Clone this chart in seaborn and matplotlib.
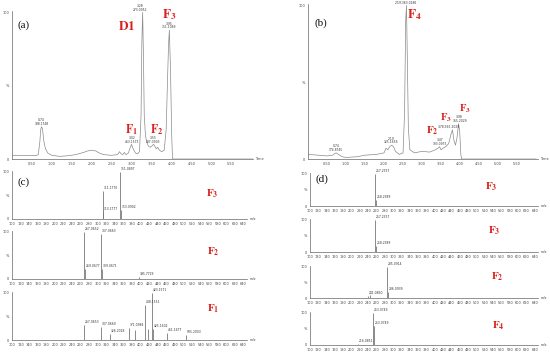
import matplotlib
matplotlib.use("Agg")
import matplotlib.pyplot as plt
import seaborn as sns

# ---- chromatogram (a) ----
time_a = [0.02, 0.3, 0.6, 0.66, 0.70, 0.72, 0.74, 0.76, 0.78, 0.80, 0.84, 0.90, 1.0, 1.2, 1.4,
          1.6, 1.8, 1.9, 2.0, 2.1, 2.2, 2.3, 2.5, 2.65, 2.70, 2.74, 2.78, 2.82, 2.86, 2.92, 2.97,
          3.00, 3.04, 3.10, 3.15, 3.20, 3.24, 3.26, 3.28, 3.30, 3.32, 3.35, 3.38, 3.42, 3.47, 3.52,
          3.55, 3.58, 3.62, 3.66, 3.70, 3.76, 3.82, 3.87, 3.90, 3.93, 3.95, 3.98, 4.01, 4.03, 6.05]
int_a = [2.5, 2.5, 2.3, 3, 12, 20, 22, 21, 17, 12, 7, 4, 2.5, 1.8, 2.2,
         3, 4.5, 5.5, 6, 5.5, 4, 3, 2.5, 3, 5, 3.5, 3, 4.5, 3, 4, 8,
         10, 7, 4, 3.5, 5, 30, 80, 100, 70, 30, 16, 12, 9, 8, 9,
         10, 9, 7, 8, 6, 5, 6, 20, 50, 78, 88, 60, 15, 0, 0]
peak_t_a = [0.74, 3.01, 3.22, 3.55, 3.95]
peak_i_a = [22, 10, 100, 10, 88]
peak_txt_a = ["0.74\n388.1748", "3.02\n463.1573", "3.28\n273.0952", "3.55\n287.0903", "3.95\n351.1089"]

# ---- chromatogram (b) ----
time_b = [0.02, 0.5, 0.65, 0.70, 0.74, 0.80, 0.90, 1.0, 1.3, 1.5, 1.8, 2.0, 2.05, 2.10, 2.15,
          2.20, 2.25, 2.30, 2.40, 2.50, 2.54, 2.57, 2.59, 2.61, 2.64, 2.68, 2.80, 3.0, 3.2, 3.35,
          3.42, 3.46, 3.50, 3.55, 3.62, 3.70, 3.76, 3.80, 3.84, 3.88, 3.92, 3.96, 3.99, 4.02, 4.04, 6.0]
int_b = [3, 2, 2.5, 3.5, 4, 3, 1.5, 1, 1.5, 2.5, 3, 4, 7, 6, 8,
         9, 8, 5, 3, 4, 30, 90, 100, 70, 20, 6, 4, 5, 4.5, 6,
         7, 8, 6, 7, 8, 10, 16, 19, 12, 9, 14, 23, 18, 3, 0, 0]
peak_t_b = [0.74, 2.19, 2.59, 3.47, 3.72, 3.99]
peak_i_b = [4, 9, 100, 8, 19, 23]
peak_txt_b = ["0.74\n174.8745", "2.19\n325.1656", "2.59;363.0186", "3.47\n333.0975",
              "3.78;365.2029", "3.98\n365.2029"]

# ---- MS spectra (c) ----
mz_c_f3 = [312.2, 313.2, 352.6, 354.1]
ab_c_f3 = [60, 16, 100, 20]
lab_c_f3 = ["311.1770", "313.1777", "351.0897", "353.0902"]
mz_c_f2 = [267.6, 269.1, 308.6, 310.1, 395.8]
ab_c_f2 = [100, 22, 95, 22, 5]
lab_c_f2 = ["267.0652", "269.0677", "307.0663", "309.0671", "395.7729"]
mz_c_f1 = [267.6, 308.6, 327.9, 372.6, 386.0, 410.7, 416.7, 425.9, 428.0, 460.7, 505.7]
ab_c_f1 = [31, 28, 12, 26, 22, 74, 24, 100, 24, 15, 10]
lab_c_f1 = ["267.0653", "307.0660", "326.2018", "371.0984", "", "408.1551", "",
            "423.1571", "425.1602", "461.1677", "505.2003"]

# ---- MS spectra (d) ----
mz_d_1 = [257.2, 258.2]
ab_d_1 = [100, 20]
lab_d_1 = ["257.2357", "258.2389"]
mz_d_2 = [257.2, 258.2]
ab_d_2 = [100, 20]
lab_d_2 = ["257.2357", "258.2389"]
mz_d_3 = [240.1, 244.6, 285.6, 287.1]
ab_d_3 = [7, 8, 100, 20]
lab_d_3 = ["241.0860", "", "285.0914", "286.0939"]
mz_d_4 = [216.1, 252.2, 253.2]
ab_d_4 = [3, 100, 60]
lab_d_4 = ["216.0851", "253.0749", "253.0749"]

mz_ticks = list(range(100, 641, 20))
time_ticks = [0.5, 1.0, 1.5, 2.0, 2.5, 3.0, 3.5, 4.0, 4.5, 5.0, 5.5]

sns.set_theme(style="white")
plt.rcParams["mathtext.fontset"] = "stix"

W, H = 550, 353
RED = "#d9201c"
LINE = "#8a8a8a"
fig = plt.figure(figsize=(W / 100, H / 100), dpi=100)
fig.patch.set_facecolor("white")


def px_axes(left, right, top, bottom):
    return fig.add_axes([left / W, 1 - bottom / H, (right - left) / W, (bottom - top) / H])


def style_axes(ax):
    sns.despine(ax=ax)
    for s in ("left", "bottom"):
        ax.spines[s].set_linewidth(0.5)
        ax.spines[s].set_color("#666666")
    ax.tick_params(labelsize=2.5, length=1.2, width=0.4, pad=1, colors="#444444")
    ax.set_yticks([0, 50, 100])
    ax.set_yticklabels(["0", "%", "100"])
    ax.set_facecolor("white")


def chromatogram(ax, t, y, pt, pi, ptxt):
    sns.lineplot(x=t, y=y, ax=ax, color=LINE, linewidth=0.5, sort=False, estimator=None)
    ax.set_xlim(0, 6.05)
    ax.set_ylim(0, 101)
    ax.set_xticks(time_ticks)
    ax.set_xticklabels([f"{v:.2f}" for v in time_ticks])
    style_axes(ax)
    for x, yy, s in zip(pt, pi, ptxt):
        ax.text(x, yy + 0.5, s, fontsize=2.2, ha="center", va="bottom", color="#333333",
                linespacing=0.9, clip_on=False)
    ax.text(1.01, 0.0, "Time", transform=ax.transAxes, fontsize=2.5, ha="left", va="center",
            color="#444444")


def spectrum(ax, mz, ab, labels):
    ax.vlines(mz, 0, ab, color="#777777", linewidth=0.6)
    for m, a, s in zip(mz, ab, labels):
        if s:
            ax.text(m + 2, a + 2, s, fontsize=2.2, ha="left", va="bottom", color="#333333",
                    clip_on=False)
    ax.set_xlim(100, 648)
    ax.set_ylim(0, 102)
    ax.set_xticks(mz_ticks)
    ax.set_xticklabels([str(v) for v in mz_ticks])
    style_axes(ax)
    ax.text(1.012, 0.0, "m/z", transform=ax.transAxes, fontsize=2.5, ha="left", va="center",
            color="#444444")


def red_label(x, y, sub, size=9.5):
    fig.text(x / W, 1 - y / H, rf"$\mathbf{{F_{sub}}}$" if sub else r"$\mathbf{D1}$",
             color=RED, fontsize=size, ha="center", va="center")


def panel_tag(x, y, s):
    fig.text(x / W, 1 - y / H, s, fontsize=8, ha="center", va="center",
             family="Liberation Serif", color="#111111")


ax_a = px_axes(12, 253, 11, 159)
chromatogram(ax_a, time_a, int_a, peak_t_a, peak_i_a, peak_txt_a)
ax_b = px_axes(308, 538, 4, 159)
chromatogram(ax_b, time_b, int_b, peak_t_b, peak_i_b, peak_txt_b)

spectrum(px_axes(12, 247, 171, 219), mz_c_f3, ab_c_f3, lab_c_f3)
spectrum(px_axes(12, 247, 231, 279), mz_c_f2, ab_c_f2, lab_c_f2)
spectrum(px_axes(12, 247, 292, 340), mz_c_f1, ab_c_f1, lab_c_f1)

spectrum(px_axes(310, 538, 173, 206), mz_d_1, ab_d_1, lab_d_1)
spectrum(px_axes(310, 538, 219, 252), mz_d_2, ab_d_2, lab_d_2)
spectrum(px_axes(310, 538, 266, 298), mz_d_3, ab_d_3, lab_d_3)
spectrum(px_axes(310, 538, 312, 345), mz_d_4, ab_d_4, lab_d_4)

panel_tag(24, 25, "(a)")
panel_tag(321, 23, "(b)")
panel_tag(24, 182, "(c)")
panel_tag(322, 179, "(d)")

red_label(127, 26, None)
red_label(169, 15, "3")
red_label(131, 130, "1", 8.5)
red_label(157, 130, "2", 8.5)

red_label(414, 15, "4")
red_label(432, 131, "2", 8)
red_label(446, 118, "3", 7.5)
red_label(465, 109, "3", 7.5)

red_label(212, 194, "3", 8)
red_label(213, 252, "2", 8)
red_label(213, 309, "1", 8)

red_label(491, 187, "3", 8)
red_label(494, 231, "3", 8)
red_label(497, 277, "2", 8)
red_label(498, 326, "4", 8)

fig.savefig("out.png", dpi=100, facecolor="white")
